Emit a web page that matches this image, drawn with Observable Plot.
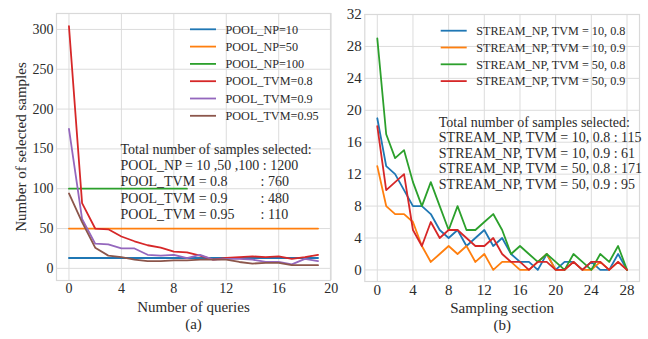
<!DOCTYPE html>
<html><head><meta charset="utf-8">
<script src="https://cdn.jsdelivr.net/npm/d3@7"></script>
<script src="https://cdn.jsdelivr.net/npm/@observablehq/plot@0.6"></script>
<style>
body{margin:0;background:#fff;}
#wrap{position:relative;width:648px;height:339px;overflow:hidden;}
#wrap svg{position:absolute;top:0;overflow:visible !important;}
#wrap svg text{font-family:'Liberation Serif','Times New Roman',serif !important;}
</style></head><body><div id="wrap"></div>
<script>
// ---- Panel (a) data ----
const queries = [0,1,2,3,4,5,6,7,8,9,10,11,12,13,14,15,16,17,18,19];
const poolNP10  = [13,13,13,13,13,13,13,13,13,13,13,13,13,13,13,13,13,13,13,13];
const poolNP50  = [50,50,50,50,50,50,50,50,50,50,50,50,50,50,50,50,50,50,50,50];
const poolNP100 = [100,100,100,100,100,100,100,100,100,100];
const poolTVM08  = [304,82,50,49,40,34,29,26,21,20,16,11,13,14,15,14,15,12,14,17];
const poolTVM09  = [175,62,31,30,25,25,17,16,17,13,17,11,12,12,11,8,8,5,12,9];
const poolTVM095 = [94,58,26,16,14,11,9,9,10,10,11,11,11,8,6,7,7,4,4,4];
const leftNames = ["POOL_NP=10","POOL_NP=50","POOL_NP=100","POOL_TVM=0.8","POOL_TVM=0.9","POOL_TVM=0.95"];
const leftSeries = [poolNP10,poolNP50,poolNP100,poolTVM08,poolTVM09,poolTVM095];
const leftXTicks = [0,4,8,12,16,20];
const leftYTicks = [0,50,100,150,200,250,300];
const leftNote = ["Total number of samples selected:","POOL_NP = 10 ,50 ,100 : 1200","POOL_TVM = 0.8","POOL_TVM = 0.9","POOL_TVM = 0.95"];
const leftNoteRight = ["","",": 760",": 480",": 110"];

// ---- Panel (b) data ----
const sections = [0,1,2,3,4,5,6,7,8,9,10,11,12,13,14,15,16,17,18,19,20,21,22,23,24,25,26,27,28];
const s10_08 = [19,13,12,10,8,8,7,5,4,5,3,4,5,3,4,2,1,1,0,2,0,1,1,0,1,0,0,2,0];
const s10_09 = [13,8,7,7,6,3,1,2,3,2,3,1,2,0,1,1,0,0,1,2,0,0,1,0,0,1,0,1,0];
const s50_08 = [29,17,14,15,11,8,11,8,5,8,5,5,6,7,5,2,3,2,1,2,1,0,2,1,0,2,1,3,0];
const s50_09 = [18,10,11,12,5,3,6,4,5,5,4,3,3,4,2,1,1,0,1,1,0,0,1,0,1,1,0,1,0];
const rightNames = ["STREAM_NP, TVM = 10, 0.8","STREAM_NP, TVM = 10, 0.9","STREAM_NP, TVM = 50, 0.8","STREAM_NP, TVM = 50, 0.9"];
const rightSeries = [s10_08,s10_09,s50_08,s50_09];
const rightXTicks = [0,4,8,12,16,20,24,28];
const rightYTicks = [0,4,8,12,16,20,24,28,32];
const rightNote = ["Total number of samples selected:","STREAM_NP, TVM = 10, 0.8 : 115","STREAM_NP, TVM = 10, 0.9 : 61","STREAM_NP, TVM = 50, 0.8 : 171","STREAM_NP, TVM = 50, 0.9 : 95"];

const palette = ["#1f77b4","#ff7f0e","#2ca02c","#d62728","#9467bd","#8c564b"];
const FONT = "'Liberation Serif','Times New Roman',serif";
const GRID = "#dcdcdc", TXT = "#2b2b2b";

function rows(names, series, xs){
  const out = [];
  names.forEach((n,k)=> series[k].forEach((v,i)=> out.push({x: xs[i], y: v, s: n})));
  return out;
}

function panel(o){
  const data = rows(o.names, o.series, o.xs);
  const noteMarks = [];
  o.note.forEach((t,i)=>{
    noteMarks.push(Plot.text([t], {frameAnchor:"top-left", text:d=>d, dx:o.noteDx, dy:o.noteDy + i*o.noteStep,
      textAnchor:"start", lineAnchor:"middle", fontSize:14, fill:TXT, fontFamily:FONT}));
  });
  if (o.noteRight) o.noteRight.forEach((t,i)=>{
    if (t) noteMarks.push(Plot.text([t], {frameAnchor:"top-left", text:d=>d, dx:o.noteRightDx, dy:o.noteDy + i*o.noteStep,
      textAnchor:"start", lineAnchor:"middle", fontSize:14, fill:TXT, fontFamily:FONT}));
  });
  const svg = Plot.plot({
    width:o.width, height:339,
    marginLeft:o.ml, marginRight:o.mr, marginTop:o.mt, marginBottom:339-o.fb,
    style:{fontFamily:FONT, background:"transparent", overflow:"visible"},
    x:{domain:o.xDomain},
    y:{domain:o.yDomain},
    color:{domain:o.names, range:palette.slice(0,o.names.length)},
    marks:[
      Plot.gridX(o.xTicks, {stroke:GRID, strokeOpacity:1, strokeWidth:1}),
      Plot.gridY(o.yTicks, {stroke:GRID, strokeOpacity:1, strokeWidth:1}),
      Plot.frame({stroke:"#d9d9d9", strokeWidth:1.2}),
      Plot.axisX(o.xTicks, {tickSize:0, tickPadding:3, label:null, fontSize:o.tickFs, fill:TXT, fontFamily:FONT, fontVariant:"normal"}),
      Plot.axisY(o.yTicks, {tickSize:0, tickPadding:3, label:null, fontSize:o.tickFs, fill:TXT, fontFamily:FONT, fontVariant:"normal"}),
      Plot.line(data, {x:"x", y:"y", z:"s", stroke:"s", strokeWidth:1.8}),
      Plot.text([o.xLabel], {frameAnchor:"bottom", text:d=>d, dy:27, lineAnchor:"middle", fontSize:15, fill:TXT, fontFamily:FONT}),
      Plot.text([o.sub], {frameAnchor:"bottom", text:d=>d, dy:44, lineAnchor:"middle", fontSize:15, fill:TXT, fontFamily:FONT}),
      ...(o.yLabel ? [Plot.text([o.yLabel], {frameAnchor:"left", text:d=>d, dx:-35.5, rotate:-90, textAnchor:"middle", lineAnchor:"middle", fontSize:15, fill:TXT, fontFamily:FONT})] : []),
      ...noteMarks
    ]
  });
  // legend
  const g = d3.select(svg).append("g").style("font-family", FONT).style("font-size", o.legFs + "px")
    .attr("fill", TXT).attr("text-anchor", "start");
  o.names.forEach((n,i)=>{
    const y = o.legY + i*o.legStep;
    g.append("line").attr("x1", o.legX).attr("x2", o.legX+26).attr("y1", y).attr("y2", y)
      .attr("stroke", palette[i]).attr("stroke-width", 1.8);
    g.append("text").attr("x", o.legX+35.5).attr("y", y).attr("dy", "0.35em").attr("text-anchor","start").text(n);
  });
  svg.style.left = o.left + "px";
  return svg;
}

const wrap = document.getElementById("wrap");
wrap.appendChild(panel({
  left:0, width:335, ml:56, mr:5, mt:13, fb:280,
  names:leftNames, series:leftSeries, xs:queries,
  xDomain:[-0.95,19.95], yDomain:[-15.25,320],
  xTicks:leftXTicks, yTicks:leftYTicks, tickFs:14,
  xLabel:"Number of queries", sub:"(a)", yLabel:"Number of selected samples",
  note:leftNote, noteRight:leftNoteRight, noteDx:64, noteRightDx:204, noteDy:136, noteStep:16.2,
  legX:190, legY:29.3, legStep:17.3, legFs:12.2
}));
wrap.appendChild(panel({
  left:330, width:318, ml:34.3, mr:9, mt:14, fb:281,
  names:rightNames, series:rightSeries, xs:sections,
  xDomain:[-1.4,29.4], yDomain:[-1.45,32],
  xTicks:rightXTicks, yTicks:rightYTicks, tickFs:15,
  xLabel:"Sampling section", sub:"(b)", yLabel:null,
  note:rightNote, noteDx:74, noteDy:107.7, noteStep:15.6,
  legX:110.7, legY:30.7, legStep:16.8, legFs:12.2
}));
</script>
</body></html>
